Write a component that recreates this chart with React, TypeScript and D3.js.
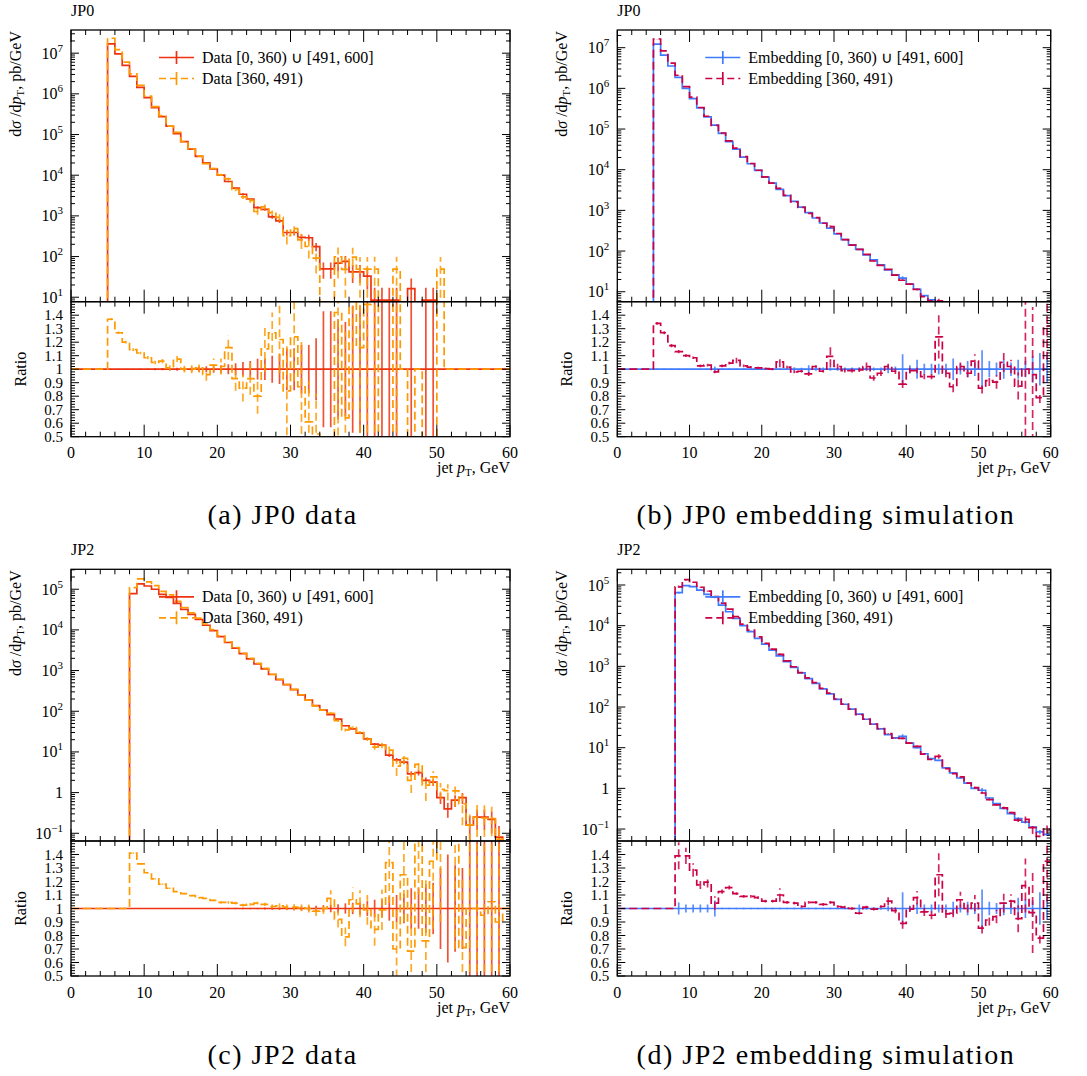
import React from "react";
import * as d3 from "d3";

// ---------------- data ----------------
const N_BINS = 60;
const BIN_EDGES = d3.range(0, N_BINS + 1, 1);
const X_MAJOR = [0, 10, 20, 30, 40, 50, 60];
const X_MINOR = [2, 4, 6, 8, 12, 14, 16, 18, 22, 24, 26, 28, 32, 34, 36, 38, 42, 44, 46, 48, 52, 54, 56, 58];
const RATIO_LABELS = [0.5, 0.6, 0.7, 0.8, 0.9, 1.0, 1.1, 1.2, 1.3, 1.4];

const LEG_DATA = ["Data [0, 360) \u222a [491, 600]", "Data [360, 491)"];
const LEG_EMB = ["Embedding [0, 360) \u222a [491, 600]", "Embedding [360, 491)"];

// (a) JP0 data
const A_S1 = [0, 0, 0, 0, 0, 1.7e7, 9.6e6, 5.0e6, 2.7e6, 1.45e6,
  8.1e5, 4.6e5, 2.75e5, 1.6e5, 1.05e5, 6.7e4, 4.4e4, 2.9e4, 2.0e4, 1.42e4,
  1.0e4, 7.0e3, 4.8e3, 3.4e3, 2.6e3, 1.6e3, 1.45e3, 950, 750, 390,
  390, 296, 290, 175, 50, 50, 69, 76, 42, 42,
  33, 8.5, 8.5, 8.5, 8.5, 0, 16.3, 0, 8.5, 8.5,
  0, 0, 0, 0, 0, 0, 0, 0, 0, 0];
const A_R2 = [1, 1, 1, 1, 1, 1.37, 1.27, 1.2, 1.145, 1.12,
  1.085, 1.05, 1.06, 1.01, 1.075, 1.0, 1.0, 1.01, 0.96, 1.03,
  1.02, 1.16, 0.93, 0.86, 0.93, 0.8, 1.15, 1.27, 1.22, 0.84,
  1.24, 0.87, 0.61, 0.52, 0, 0, 1.42, 0.64, 2.3, 1.16,
  1.48, 5.8, 0, 0, 5.8, 1, 0, 1, 0, 0,
  99, 1, 1, 1, 1, 1, 1, 1, 1, 1];
const A_E1 = [0, 0, 0, 0, 0, 0.003, 0.003, 0.004, 0.004, 0.005,
  0.006, 0.007, 0.008, 0.009, 0.011, 0.013, 0.015, 0.02, 0.022, 0.027,
  0.03, 0.037, 0.045, 0.053, 0.06, 0.077, 0.08, 0.1, 0.11, 0.155,
  0.155, 0.18, 0.18, 0.23, 0.43, 0.43, 0.37, 0.35, 0.47, 0.47,
  0.53, 1, 1, 1, 1, 0, 0.76, 0, 1, 1,
  0, 0, 0, 0, 0, 0, 0, 0, 0, 0];
const A_E2 = [0, 0, 0, 0, 0, 0.008, 0.01, 0.01, 0.01, 0.01,
  0.012, 0.013, 0.015, 0.02, 0.022, 0.025, 0.03, 0.035, 0.045, 0.05,
  0.06, 0.09, 0.09, 0.1, 0.12, 0.13, 0.17, 0.15, 0.25, 0.33,
  0.33, 0.35, 0.3, 0.3, 0, 0, 1.0, 0.64, 1.6, 1.16,
  1.48, 5.8, 0, 0, 5.8, 0, 0, 0, 0, 0,
  0, 0, 0, 0, 0, 0, 0, 0, 0, 0];
const A_S2X = [[50, 49]];

// (b) JP0 embedding
const B_S1 = [0, 0, 0, 0, 0, 1.22e7, 6.6e6, 3.55e6, 1.86e6, 1.0e6,
  5.6e5, 3.3e5, 2.0e5, 1.25e5, 7.8e4, 4.9e4, 3.2e4, 2.05e4, 1.4e4, 9.6e3,
  6.6e3, 4.7e3, 3.3e3, 2.3e3, 1.66e3, 1.2e3, 880, 650, 490, 365,
  265, 192, 142, 110, 81, 61, 46, 34.6, 26, 21.5,
  15.5, 11.5, 8.0, 6.3, 4.8, 3.6, 2.7, 2.0, 1.5, 1.1,
  0.8, 0.6, 0.45, 0.33, 0.25, 0.18, 0.13, 0.1, 0.075, 0.055];
const B_R2 = [1, 1, 1, 1, 1, 1.34, 1.27, 1.175, 1.13, 1.1,
  1.085, 1.025, 1.03, 0.98, 1.025, 1.045, 1.065, 1.025, 1.015, 1.01,
  1.005, 1.0, 1.055, 1.015, 0.98, 0.985, 0.965, 1.02, 0.985, 1.095,
  1.02, 0.99, 0.99, 0.995, 1.02, 0.935, 0.97, 1.02, 0.985, 0.89,
  0.99, 0.99, 0.945, 0.945, 1.24, 0.97, 0.87, 1.02, 0.97, 1.06,
  0.86, 0.915, 0.905, 1.05, 1.02, 0.875, 1.0, 0.96, 0.79, 1.32];
const B_E1 = [0, 0, 0, 0, 0, 0.004, 0.004, 0.004, 0.004, 0.004,
  0.004, 0.004, 0.004, 0.02, 0.006, 0.006, 0.006, 0.006, 0.006, 0.006,
  0.006, 0.006, 0.006, 0.006, 0.015, 0.01, 0.03, 0.012, 0.012, 0.012,
  0.012, 0.012, 0.012, 0.012, 0.012, 0.012, 0.012, 0.03, 0.02, 0.11,
  0.03, 0.07, 0.04, 0.04, 0.04, 0.04, 0.08, 0.04, 0.06, 0.05,
  0.14, 0.06, 0.05, 0.07, 0.05, 0.07, 0.06, 0.1, 0.12, 0.1];
const B_E2 = [0, 0, 0, 0, 0, 0.01, 0.012, 0.012, 0.012, 0.01,
  0.01, 0.01, 0.01, 0.01, 0.01, 0.01, 0.02, 0.01, 0.008, 0.008,
  0.008, 0.008, 0.04, 0.01, 0.01, 0.01, 0.015, 0.01, 0.01, 0.08,
  0.02, 0.015, 0.015, 0.015, 0.03, 0.02, 0.02, 0.02, 0.02, 0.03,
  0.02, 0.02, 0.02, 0.02, 0.16, 0.03, 0.04, 0.03, 0.03, 0.05,
  0.04, 0.04, 0.05, 0.07, 0.05, 0.1, 0.5, 0.5, 0.04, 0.25];
const B_S2X = [];

// (c) JP2 data
const C_S1 = [0, 0, 0, 0, 0, 0, 0, 0, 7.8e4, 1.35e5,
  1.2e5, 1.0e5, 7.5e4, 6.3e4, 4.5e4, 3.2e4, 2.4e4, 1.8e4, 1.3e4, 9.6e3,
  6.8e3, 4.9e3, 3.55e3, 2.6e3, 1.95e3, 1.45e3, 1.1e3, 800, 600, 450,
  340, 253, 187, 138, 106, 83, 64, 44, 37, 29,
  21, 15.5, 14.7, 8.3, 6.4, 5.6, 2.9, 3.1, 2.0, 1.8,
  0.75, 0.4, 0.65, 0.75, 0.16, 0.25, 0.25, 0.22, 0.08, 0];
const C_R2 = [1, 1, 1, 1, 1, 1, 1, 1, 1.41, 1.33,
  1.265, 1.22, 1.18, 1.15, 1.125, 1.11, 1.095, 1.08, 1.075, 1.06,
  1.045, 1.045, 1.04, 1.025, 1.03, 1.04, 1.03, 1.015, 1.02, 1.01,
  1.01, 1.005, 1.0, 0.98, 1.0, 1.075, 0.92, 0.79, 1.065, 1.035,
  0.99, 0.845, 0.99, 1.34, 0.7, 1.25, 0.685, 1.6, 0.76, 1.35,
  1.6, 2.8, 1.7, 0.71, 1.0, 1.0, 0.95, 1.05, 0.9, 1];
const C_E1 = [0, 0, 0, 0, 0, 0, 0, 0, 0.003, 0.003,
  0.003, 0.003, 0.003, 0.003, 0.003, 0.003, 0.003, 0.003, 0.003, 0.003,
  0.003, 0.005, 0.005, 0.005, 0.005, 0.005, 0.008, 0.01, 0.01, 0.012,
  0.014, 0.016, 0.018, 0.02, 0.025, 0.028, 0.032, 0.038, 0.042, 0.047,
  0.055, 0.065, 0.067, 0.09, 0.1, 0.11, 0.15, 0.15, 0.18, 0.19,
  0.3, 0.4, 0.32, 0.3, 0.65, 0.52, 0.52, 0.55, 0.9, 0];
const C_E2 = [0, 0, 0, 0, 0, 0, 0, 0, 0.005, 0.005,
  0.005, 0.005, 0.005, 0.005, 0.005, 0.005, 0.005, 0.005, 0.005, 0.005,
  0.008, 0.01, 0.01, 0.01, 0.01, 0.01, 0.012, 0.015, 0.018, 0.02,
  0.022, 0.025, 0.03, 0.035, 0.04, 0.06, 0.06, 0.07, 0.09, 0.1,
  0.11, 0.12, 0.15, 0.3, 0.3, 0.35, 0.35, 0.5, 0.45, 0.5,
  0.7, 1.2, 1.0, 0.5, 0.8, 1.0, 1.0, 1.0, 1.0, 0];
const C_S2X = [];

// (d) JP2 embedding
const D_S1 = [0, 0, 0, 0, 0, 0, 0, 0, 6.5e4, 9.7e4,
  9.1e4, 7.5e4, 5.9e4, 5.0e4, 3.2e4, 2.2e4, 1.5e4, 1.0e4, 7.1e3, 4.9e3,
  3.5e3, 2.5e3, 1.8e3, 1.3e3, 940, 690, 500, 380, 280, 210,
  155, 117, 89, 67, 50, 38, 29, 21, 17.5, 19,
  13, 10, 7.1, 5.4, 4.9, 3.2, 2.4, 1.8, 1.35, 1.0,
  0.9, 0.58, 0.42, 0.32, 0.24, 0.18, 0.148, 0.112, 0.085, 0.074];
const D_R2 = [1, 1, 1, 1, 1, 1, 1, 1, 1.39, 1.39,
  1.285, 1.175, 1.195, 1.04, 1.125, 1.155, 1.11, 1.09, 1.09, 1.08,
  1.055, 1.055, 1.1, 1.045, 1.04, 1.015, 1.045, 1.045, 1.03, 1.045,
  1.015, 1.01, 1.0, 0.965, 1.01, 0.995, 1.015, 1.055, 0.985, 0.89,
  0.995, 1.08, 0.975, 0.95, 1.25, 0.96, 0.965, 1.065, 1.0, 1.04,
  0.855, 0.915, 0.94, 1.04, 1.055, 0.925, 1.17, 0.97, 0.78, 1.35];
const D_E1 = [0, 0, 0, 0, 0, 0, 0, 0, 0.045, 0.03,
  0.03, 0.03, 0.03, 0.06, 0.005, 0.005, 0.005, 0.005, 0.005, 0.005,
  0.005, 0.005, 0.005, 0.005, 0.005, 0.005, 0.005, 0.005, 0.005, 0.005,
  0.005, 0.005, 0.005, 0.03, 0.01, 0.01, 0.01, 0.02, 0.01, 0.12,
  0.02, 0.04, 0.03, 0.03, 0.03, 0.03, 0.05, 0.03, 0.05, 0.04,
  0.14, 0.05, 0.04, 0.05, 0.04, 0.08, 0.07, 0.06, 0.12, 0.08];
const D_E2 = [0, 0, 0, 0, 0, 0, 0, 0, 0.1, 0.06,
  0.05, 0.03, 0.04, 0.05, 0.015, 0.015, 0.01, 0.01, 0.01, 0.01,
  0.01, 0.01, 0.05, 0.01, 0.01, 0.01, 0.01, 0.01, 0.01, 0.01,
  0.01, 0.01, 0.01, 0.01, 0.01, 0.01, 0.01, 0.03, 0.02, 0.04,
  0.02, 0.05, 0.03, 0.03, 0.16, 0.03, 0.03, 0.06, 0.03, 0.06,
  0.04, 0.04, 0.05, 0.07, 0.05, 0.1, 0.2, 0.3, 0.04, 0.3];
const D_S2X = [];

// ---------------- style ----------------
const RED = "#ee3311";
const ORANGE = "#ff9900";
const BLUE = "#3f7bff";
const CRIMSON = "#cc0044";
const FONT = "'Liberation Serif', serif";
const DASH = "8,4";

const PANELS = [
  { key: "a", title: "JP0", caption: "(a) JP0 data", s1: A_S1, r2: A_R2, e1: A_E1, e2: A_E2, s2x: A_S2X,
    c1: RED, c2: ORANGE, leg: LEG_DATA, left: 71, right: 510, top: 30, logTop: 7.57, logBot: 0.89 },
  { key: "b", title: "JP0", caption: "(b) JP0 embedding simulation", s1: B_S1, r2: B_R2, e1: B_E1, e2: B_E2, s2x: B_S2X,
    c1: BLUE, c2: CRIMSON, leg: LEG_EMB, left: 617.3, right: 1050.7, top: 30, logTop: 7.435, logBot: 0.755 },
  { key: "c", title: "JP2", caption: "(c) JP2 data", s1: C_S1, r2: C_R2, e1: C_E1, e2: C_E2, s2x: C_S2X,
    c1: RED, c2: ORANGE, leg: LEG_DATA, left: 71, right: 510, top: 569.3, logTop: 5.49, logBot: -1.19 },
  { key: "d", title: "JP2", caption: "(d) JP2 embedding simulation", s1: D_S1, r2: D_R2, e1: D_E1, e2: D_E2, s2x: D_S2X,
    c1: BLUE, c2: CRIMSON, leg: LEG_EMB, left: 617.3, right: 1050.7, top: 569.3, logTop: 5.386, logBot: -1.294 },
];

const txt = (size: number) => ({ fontSize: size, fill: "#000", fontFamily: FONT });

function Panel({ p }: { p: any }) {
  const top = p.top;
  const mid = top + 271.7;
  const bot = top + 406.7;
  const x = d3.scaleLinear().domain([0, N_BINS]).range([p.left, p.right]);
  const yM = d3.scaleLinear().domain([p.logBot, p.logTop]).range([mid, top]);
  const yR = d3.scaleLinear().domain([0.5, 1.5]).range([bot, mid]);
  const lowM = mid + 20;
  const ym = (v: number) => (v > 0 ? Math.max(top - 20, yM(Math.log10(v))) : lowM);
  const yr = (r: number) => Math.max(mid - 20, Math.min(bot + 20, yR(r)));

  const s1: number[] = p.s1;
  const r2: number[] = p.r2;
  const ov = new Map<number, number>(p.s2x.map((d: number[]) => [d[0], d[1]]));
  const s2 = s1.map((v, i) => (ov.has(i) ? (ov.get(i) as number) : v > 0 ? v * r2[i] : 0));

  const stepPath = (vals: number[], fy: (v: number) => number) => {
    const pts: [number, number][] = vals.map((v, i) => [x(BIN_EDGES[i]), fy(v)]);
    pts.push([x(BIN_EDGES[N_BINS]), fy(vals[N_BINS - 1])]);
    return d3.line().curve(d3.curveStepAfter)(pts) as string;
  };
  const cx = (i: number) => x((BIN_EDGES[i] + BIN_EDGES[i + 1]) / 2);

  const err1Main = s1.map((v, i) => (v > 0 && p.e1[i] > 0 ? { i, lo: v * (1 - p.e1[i]), hi: v * (1 + p.e1[i]) } : null)).filter(Boolean) as any[];
  const err2Main = s2.map((v, i) => {
    if (!(v > 0)) return null;
    const e = ov.has(i) ? v : s1[i] * p.e2[i];
    if (!(e > 0)) return null;
    return { i, lo: v - e, hi: v + e };
  }).filter(Boolean) as any[];
  const err1Rat = p.e1.map((e: number, i: number) => (e > 0 ? { i, lo: 1 - e, hi: 1 + e } : null)).filter(Boolean) as any[];
  const err2Rat = p.e2.map((e: number, i: number) => (e > 0 ? { i, lo: r2[i] - e, hi: r2[i] + e } : null)).filter(Boolean) as any[];

  const decades: number[] = [];
  for (let d = Math.ceil(p.logBot); d <= Math.floor(p.logTop); d++) decades.push(d);
  const logMinor: number[] = [];
  for (let d = Math.floor(p.logBot); d <= Math.ceil(p.logTop); d++) {
    for (let m = 2; m <= 9; m++) {
      const l = d + Math.log10(m);
      if (l > p.logBot && l < p.logTop) logMinor.push(l);
    }
  }
  const ratMinor: number[] = [];
  for (let k = 0; k <= 50; k++) {
    const r = 0.5 + k * 0.02;
    if (k % 5 !== 0) ratMinor.push(r);
  }

  const clipM = `clipM_${p.key}`;
  const clipR = `clipR_${p.key}`;
  const W = p.right - p.left;
  const tk = { stroke: "#000", strokeWidth: 1 };

  const expLabel = (d: number) => {
    if (d === 0) return <>1</>;
    return (
      <>
        10<tspan dy={-7} fontSize={11}>{d < 0 ? "\u2212" + Math.abs(d) : String(d)}</tspan>
      </>
    );
  };

  const legRows = [top + 27.5, top + 48.5];
  const legX0 = p.left + 88;
  const legX1 = p.left + 123;
  const legT = p.left + 131;

  return (
    <g>
      <defs>
        <clipPath id={clipM}><rect x={p.left} y={top} width={W} height={mid - top} /></clipPath>
        <clipPath id={clipR}><rect x={p.left} y={mid} width={W} height={bot - mid} /></clipPath>
      </defs>

      <g clipPath={`url(#${clipM})`} fill="none" strokeWidth={1.7}>
        <path d={stepPath(s1, ym)} stroke={p.c1} />
        {err1Main.map((e) => (
          <line key={"m1" + e.i} x1={cx(e.i)} x2={cx(e.i)} y1={ym(e.lo)} y2={ym(e.hi)} stroke={p.c1} strokeOpacity={0.85} />
        ))}
        <path d={stepPath(s2, ym)} stroke={p.c2} strokeDasharray={DASH} />
        {err2Main.map((e) => (
          <line key={"m2" + e.i} x1={cx(e.i)} x2={cx(e.i)} y1={ym(e.lo)} y2={ym(e.hi)} stroke={p.c2} strokeOpacity={0.85} strokeDasharray={DASH} />
        ))}
      </g>

      <g clipPath={`url(#${clipR})`} fill="none" strokeWidth={1.7}>
        <line x1={x(0)} x2={x(N_BINS)} y1={yR(1)} y2={yR(1)} stroke={p.c1} />
        {err1Rat.map((e) => (
          <line key={"r1" + e.i} x1={cx(e.i)} x2={cx(e.i)} y1={yr(e.lo)} y2={yr(e.hi)} stroke={p.c1} strokeOpacity={0.85} />
        ))}
        <path d={stepPath(r2, yr)} stroke={p.c2} strokeDasharray={DASH} />
        {err2Rat.map((e) => (
          <line key={"r2" + e.i} x1={cx(e.i)} x2={cx(e.i)} y1={yr(e.lo)} y2={yr(e.hi)} stroke={p.c2} strokeOpacity={0.85} strokeDasharray={DASH} />
        ))}
      </g>

      {X_MAJOR.map((t) => (
        <g key={"xM" + t} {...tk}>
          <line x1={x(t)} x2={x(t)} y1={top} y2={top + 12} />
          <line x1={x(t)} x2={x(t)} y1={mid} y2={mid - 12} />
          <line x1={x(t)} x2={x(t)} y1={mid} y2={mid + 12} />
          <line x1={x(t)} x2={x(t)} y1={bot} y2={bot - 12} />
        </g>
      ))}
      {X_MINOR.map((t) => (
        <g key={"xm" + t} {...tk}>
          <line x1={x(t)} x2={x(t)} y1={top} y2={top + 5} />
          <line x1={x(t)} x2={x(t)} y1={mid} y2={mid - 5} />
          <line x1={x(t)} x2={x(t)} y1={mid} y2={mid + 5} />
          <line x1={x(t)} x2={x(t)} y1={bot} y2={bot - 5} />
        </g>
      ))}

      {decades.map((d) => (
        <g key={"yM" + d} {...tk}>
          <line x1={p.left} x2={p.left + 8} y1={yM(d)} y2={yM(d)} />
          <line x1={p.right} x2={p.right - 8} y1={yM(d)} y2={yM(d)} />
        </g>
      ))}
      {logMinor.map((l, k) => (
        <g key={"ym" + k} {...tk}>
          <line x1={p.left} x2={p.left + 4} y1={yM(l)} y2={yM(l)} />
          <line x1={p.right} x2={p.right - 4} y1={yM(l)} y2={yM(l)} />
        </g>
      ))}
      {decades.map((d) => (
        <text key={"yl" + d} x={p.left - 8} y={yM(d) + 5.5} textAnchor="end" {...txt(16)}>
          {expLabel(d)}
        </text>
      ))}

      {RATIO_LABELS.map((r) => (
        <g key={"rM" + r} {...tk}>
          <line x1={p.left} x2={p.left + 8} y1={yR(r)} y2={yR(r)} />
          <line x1={p.right} x2={p.right - 8} y1={yR(r)} y2={yR(r)} />
        </g>
      ))}
      {ratMinor.map((r, k) => (
        <g key={"rm" + k} {...tk}>
          <line x1={p.left} x2={p.left + 4} y1={yR(r)} y2={yR(r)} />
          <line x1={p.right} x2={p.right - 4} y1={yR(r)} y2={yR(r)} />
        </g>
      ))}
      {RATIO_LABELS.map((r) => (
        <text key={"rl" + r} x={p.left - 8} y={yR(r) + 5} textAnchor="end" {...txt(15)}>
          {Math.abs(r - 1) < 1e-9 ? "1" : r.toFixed(1)}
        </text>
      ))}

      <rect x={p.left} y={top} width={W} height={mid - top} fill="none" stroke="#000" strokeWidth={1.3} />
      <rect x={p.left} y={mid} width={W} height={bot - mid} fill="none" stroke="#000" strokeWidth={1.3} />

      {X_MAJOR.map((t) => (
        <text key={"xl" + t} x={x(t)} y={bot + 21.5} textAnchor="middle" {...txt(16)}>
          {t}
        </text>
      ))}

      <text x={p.right} y={bot + 36.5} textAnchor="end" {...txt(16)}>
        jet <tspan fontStyle="italic">p</tspan>
        <tspan fontSize={11} dy={3}>T</tspan>
        <tspan dy={-3}>, GeV</tspan>
      </text>
      <text transform={`translate(${p.left - 50},${top + 1}) rotate(-90)`} textAnchor="end" {...txt(16)}>
        d<tspan fontStyle="italic">σ</tspan> /d<tspan fontStyle="italic">p</tspan>
        <tspan fontSize={11} dy={3}>T</tspan>
        <tspan dy={-3}>, pb/GeV</tspan>
      </text>
      <text transform={`translate(${p.left - 45},${(mid + bot) / 2}) rotate(-90)`} textAnchor="middle" {...txt(16)}>
        Ratio
      </text>

      <text x={p.left} y={top - 14} {...txt(16)}>{p.title}</text>

      {[0, 1].map((k) => (
        <g key={"lg" + k}>
          <line x1={legX0} x2={legX1} y1={legRows[k]} y2={legRows[k]} stroke={k === 0 ? p.c1 : p.c2} strokeWidth={1.7} strokeDasharray={k === 0 ? undefined : "7,4"} />
          <line x1={(legX0 + legX1) / 2} x2={(legX0 + legX1) / 2} y1={legRows[k] - 6.5} y2={legRows[k] + 6.5} stroke={k === 0 ? p.c1 : p.c2} strokeWidth={1.7} />
          <text x={legT} y={legRows[k] + 5.5} {...txt(16)}>{p.leg[k]}</text>
        </g>
      ))}

      <text x={(p.left + p.right) / 2 - 8} y={bot + 87.5} textAnchor="middle" letterSpacing={1.5} {...txt(28)}>
        {p.caption}
      </text>
    </g>
  );
}

export default function App() {
  return (
    <svg width={1087} height={1076} style={{ position: "absolute", left: 0, top: 0, background: "#fff" }}>
      <rect x={0} y={0} width={1087} height={1076} fill="#fff" />
      {PANELS.map((p) => (
        <Panel key={p.key} p={p} />
      ))}
    </svg>
  );
}
